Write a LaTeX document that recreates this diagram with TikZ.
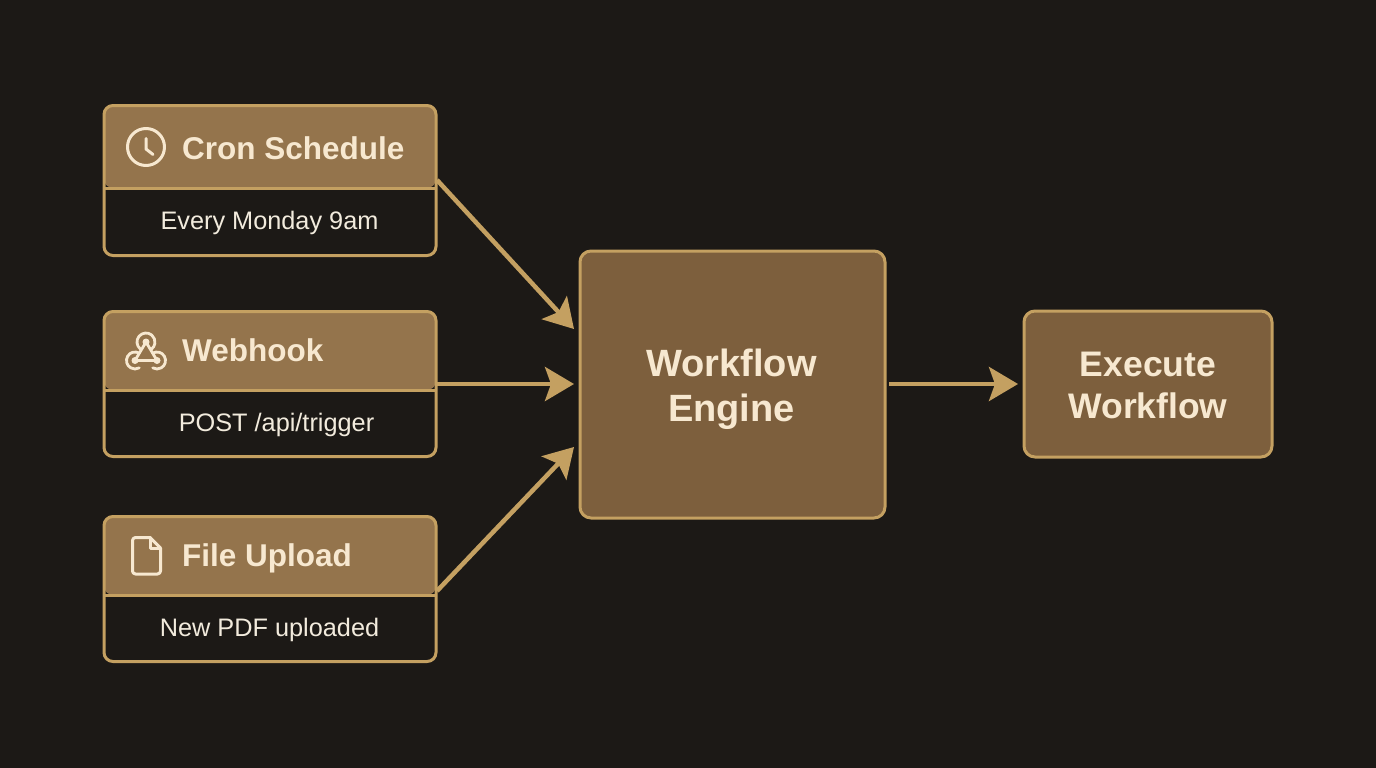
\documentclass[tikz,border=0pt]{standalone}
\usepackage{fontspec}
\setmainfont{Liberation Sans}
\usetikzlibrary{arrows.meta}
\definecolor{bgc}{HTML}{1C1916}
\definecolor{edgec}{HTML}{C4A061}
\definecolor{headc}{HTML}{94744C}
\definecolor{boxc}{HTML}{7D5F3D}
\definecolor{titlec}{HTML}{F7E8D0}
\definecolor{subc}{HTML}{F2EBDD}
\tikzset{
  card/.style={fill=bgc,rounded corners=9pt,minimum width=332pt,inner sep=0pt,outer sep=0pt},
  cardedge/.style={draw=edgec,line width=3pt,rounded corners=9pt},
  bigbox/.style={draw=edgec,line width=3pt,fill=boxc,rounded corners=11pt,inner sep=0pt,outer sep=0pt},
  bigtext/.style={align=center,text=titlec,inner sep=0pt},
  headfill/.style={fill=headc,rounded corners=9pt},
  rule/.style={draw=edgec,line width=3pt},
  title/.style={anchor=base west,text=titlec,font=\fontsize{31.5}{36}\selectfont\bfseries,inner sep=0pt},
  sub/.style={anchor=base,text=subc,font=\fontsize{25.3}{28}\selectfont,inner sep=0pt},
  icon/.style={draw=titlec,line width=3pt,line cap=round,line join=round},
  hook/.style={draw=titlec,line width=2.8pt,line cap=round,line join=round},
  flow/.style={draw=edgec,line width=4.5pt,-{Stealth[length=29pt,width=34pt,inset=6pt]}}
}
\begin{document}
\begin{tikzpicture}[x=1pt,y=-1pt]
\useasboundingbox (0,0) rectangle (1376,768);
\fill[bgc] (0,0) rectangle (1376,768);
% cron card
\node[card,minimum height=150pt] (cron) at (270,180.5) {};
\fill[headfill] (104,188) |- (436,105.5) -- (436,188) -- cycle;
\draw[rule] (104,188) -- (436,188);
\draw[cardedge] (cron.north west) rectangle (cron.south east);
\node[title] (crontitle) at (182,159) {Cron Schedule};
\node[sub] (cronsub) at (269.5,229) {Every Monday 9am};
\draw[icon] (146,147) circle (18.5pt);
\draw[icon] (146,138.5) -- (146,149) -- (153,154.5);
% webhook card
\node[card,minimum height=145pt] (webhook) at (270,384) {};
\fill[headfill] (104,390) |- (436,311.5) -- (436,390) -- cycle;
\draw[rule] (104,390) -- (436,390);
\draw[cardedge] (webhook.north west) rectangle (webhook.south east);
\node[title] (webtitle) at (182,361) {Webhook};
\node[sub] (websub) at (276.5,431) {POST /api/trigger};
\fill[titlec] (146,342) circle (3.5pt) (135,360.5) circle (3.5pt) (157,360.5) circle (3.5pt);
\draw[hook] (146,342) -- (135,360.5) -- (157,360.5) -- cycle;
\draw[hook] (146,342) ++(230:9pt) arc (230:-50:9pt);
\draw[hook] (135,360.5) ++(60:8.5pt) arc (60:300:8.5pt);
\draw[hook] (157,360.5) ++(120:8.5pt) arc (120:-120:8.5pt);
% file card
\node[card,minimum height=145pt] (upload) at (270,589) {};
\fill[headfill] (104,595) |- (436,516.5) -- (436,595) -- cycle;
\draw[rule] (104,595) -- (436,595);
\draw[cardedge] (upload.north west) rectangle (upload.south east);
\node[title] (filetitle) at (182,566) {File Upload};
\node[sub] (filesub) at (269.5,636) {New PDF uploaded};
\draw[icon,rounded corners=3pt] (150,537.5) -- (132.5,537.5) -- (132.5,574) -- (160.5,574) -- (160.5,548);
\draw[icon] (150,537.5) -- (160.5,548);
\draw[icon] (150,537.5) -- (150,548) -- (160.5,548);
% engine and execute
\node[bigbox,minimum width=305pt,minimum height=267pt] (engine) at (732.5,384.5) {};
\node[bigtext,font=\fontsize{38}{45.5}\selectfont\bfseries] (enginetext) at (731.5,389.5) {Workflow\\Engine};
\node[bigbox,minimum width=248pt,minimum height=146pt] (execute) at (1148,384) {};
\node[bigtext,font=\fontsize{35.5}{42}\selectfont\bfseries] (executetext) at (1148,385) {Execute\\Workflow};
% connectors
\coordinate (cronout) at (437,180);
\coordinate (enginein1) at (574,329);
\coordinate (fileout) at (437,591);
\coordinate (enginein3) at (574,447);
\draw[flow] (cronout) -- (enginein1);
\draw[flow,shorten >=6pt] (webhook.east) -- (webhook.east -| engine.west);
\draw[flow] (fileout) -- (enginein3);
\draw[flow,shorten <=4pt,shorten >=6pt] (engine.east |- execute.west) -- (execute.west);
\end{tikzpicture}
\end{document}
